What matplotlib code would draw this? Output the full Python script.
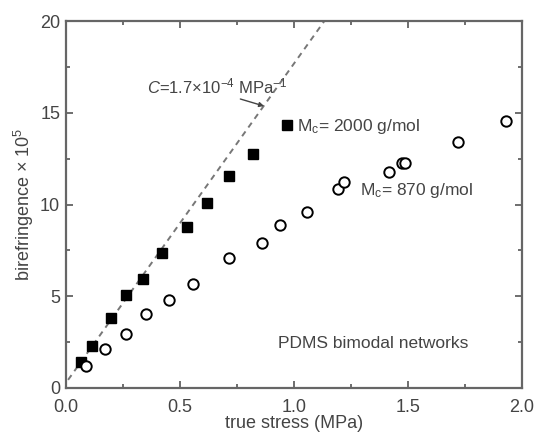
import matplotlib
matplotlib.use('Agg')
import matplotlib.pyplot as plt
from matplotlib.ticker import MultipleLocator, FormatStrFormatter

plt.rcParams['font.family'] = ['Liberation Sans', 'DejaVu Sans']
plt.rcParams['mathtext.fontset'] = 'custom'
plt.rcParams['mathtext.rm'] = 'Liberation Sans'
plt.rcParams['mathtext.it'] = 'Liberation Sans:italic'

# Mc = 2000 g/mol
stress_2000 = [0.066, 0.114, 0.199, 0.265, 0.337, 0.422, 0.530, 0.621, 0.716, 0.822, 0.969]
biref_2000 = [1.43, 2.29, 3.83, 5.07, 5.92, 7.34, 8.79, 10.07, 11.57, 12.75, 14.33]

# Mc = 870 g/mol
stress_870 = [0.089, 0.170, 0.265, 0.352, 0.453, 0.559, 0.718, 0.859, 0.939, 1.058,
              1.196, 1.222, 1.418, 1.475, 1.490, 1.722, 1.930]
biref_870 = [1.22, 2.13, 2.94, 4.03, 4.80, 5.65, 7.07, 7.89, 8.88, 9.61,
             10.84, 11.24, 11.75, 12.28, 12.28, 13.42, 14.55]

# stress-optical line
line_x = [0.01, 1.134]
line_y = [0.44, 20.0]

gray = '#444444'

fig = plt.figure(figsize=(5.35, 4.32), dpi=100)
ax = fig.add_axes([0.123, 0.102, 0.852, 0.849])

ax.plot(line_x, line_y, linestyle=(0, (3, 2.5)), color='#777777', lw=1.4)
ax.plot(stress_2000, biref_2000, 's', color='black', markersize=7.5)
ax.plot(stress_870, biref_870, 'o', mfc='white', mec='black', mew=1.4, markersize=7.5)

ax.set_xlim(0, 2.0)
ax.set_ylim(0, 20)
ax.xaxis.set_major_locator(MultipleLocator(0.5))
ax.xaxis.set_minor_locator(MultipleLocator(0.25))
ax.yaxis.set_major_locator(MultipleLocator(5))
ax.yaxis.set_minor_locator(MultipleLocator(2.5))
ax.xaxis.set_major_formatter(FormatStrFormatter('%.1f'))

ax.tick_params(which='both', direction='in', top=True, right=True, colors='#555555',
               labelcolor=gray, labelsize=13, width=1.2)
ax.tick_params(which='major', length=5)
ax.tick_params(which='minor', length=3)
ax.tick_params(axis='x', pad=8)
ax.tick_params(axis='y', pad=4)
for s in ax.spines.values():
    s.set_color('#666666')
    s.set_linewidth(1.6)

ax.set_xlabel('true stress (MPa)', fontsize=13, color=gray, labelpad=-1)
ax.set_ylabel(r'birefringence $\times$ 10$^5$', fontsize=13, color=gray, labelpad=3)

ax.annotate(r'$C$=1.7$\times$10$^{-4}$ MPa$^{-1}$', xy=(0.870, 15.37), xytext=(0.355, 16.45),
            fontsize=12, color=gray, va='center',
            arrowprops=dict(arrowstyle='-|>', color=gray, lw=1.0,
                            shrinkA=0, shrinkB=0, mutation_scale=7,
                            relpos=(0.6, 0.0)))
ax.text(1.014, 14.27, r'M$_{\rm c}$= 2000 g/mol', fontsize=12.5, color=gray, va='center')
ax.text(1.293, 10.79, r'M$_{\rm c}$= 870 g/mol', fontsize=12.5, color=gray, va='center')
ax.text(1.347, 2.44, 'PDMS bimodal networks', fontsize=12.5, color=gray,
        va='center', ha='center')

fig.savefig('out.png', dpi=100)
